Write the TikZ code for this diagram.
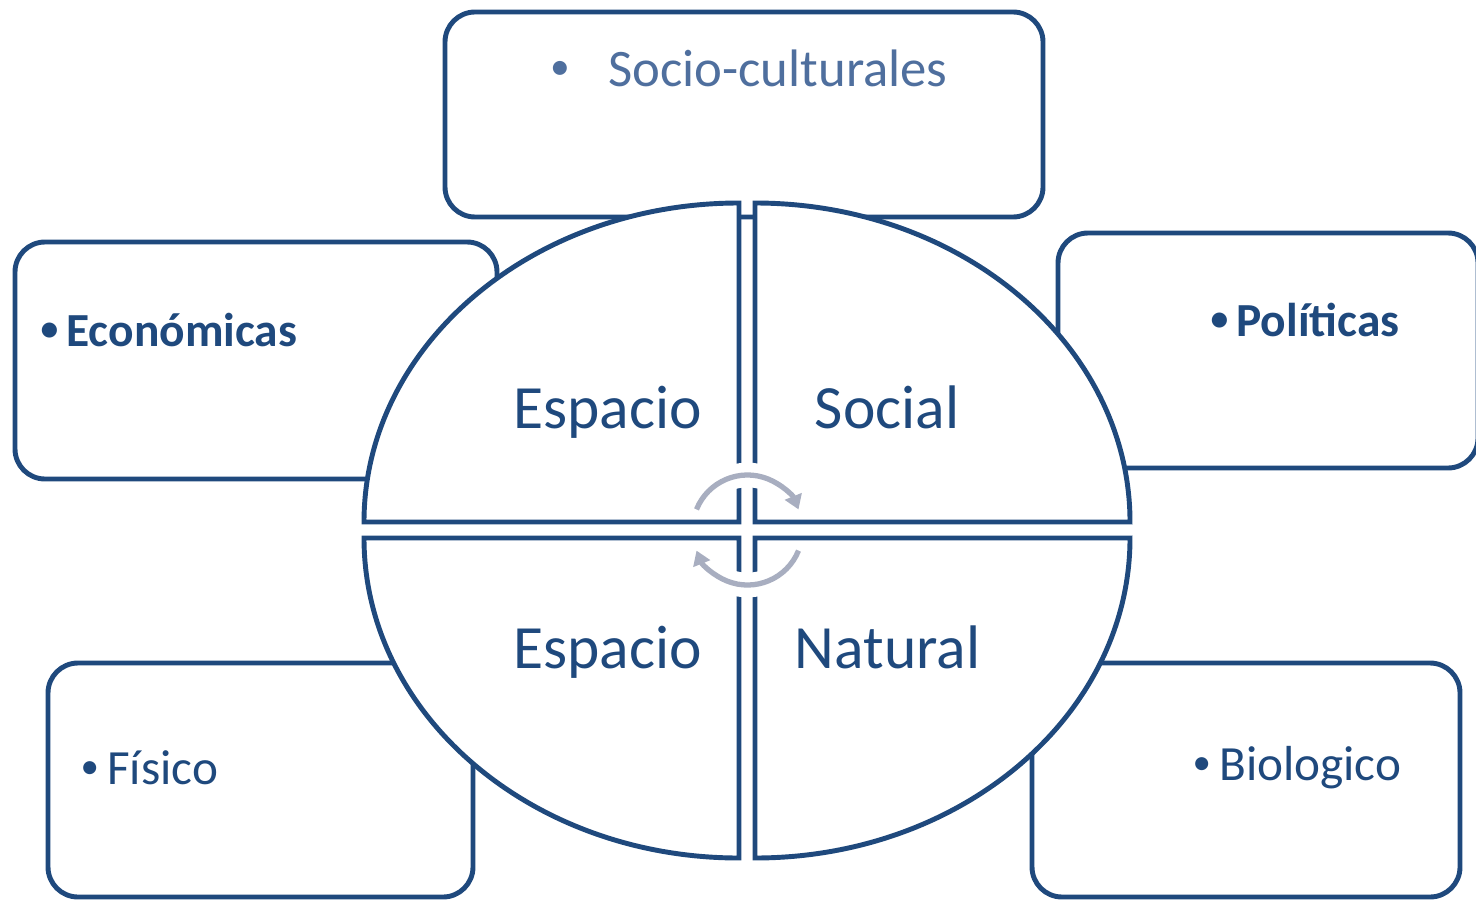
\documentclass[tikz,border=0pt]{standalone}
\usepackage{fontspec}
\setmainfont{Carlito}
\usepackage{tikz}
\usepackage{xcolor}
\usetikzlibrary{arrows.meta,positioning}
\definecolor{spacenavy}{RGB}{31,73,125}
\definecolor{spacesoft}{RGB}{79,111,158}
\definecolor{cyclegray}{RGB}{168,174,192}
\newcommand{\smallbul}{\raisebox{0.12em}{\scalebox{0.75}{\textbullet}}}

\begin{document}
\begin{tikzpicture}[
        outerbox/.style={draw=spacenavy, line width=1.4pt, rounded corners=0.3cm, fill=white},
        quarter/.style={draw=spacenavy, line width=1.4pt, fill=white},
        boxlabel/.style={text=spacenavy, font=\fontsize{13.5}{16}\selectfont, inner sep=0pt, anchor=west},
        quadlabel/.style={text=spacenavy, font=\fontsize{17.5}{20}\selectfont, inner sep=0pt, anchor=base}
    ]
        \useasboundingbox (0,0) rectangle (14.76,9);

        % Outer boxes
        \node [outerbox, minimum width=5.98cm, minimum height=2.05cm] (socio) at (7.44,7.855) {};
        \node [outerbox, minimum width=4.82cm, minimum height=2.37cm] (econ) at (2.56,5.395) {};
        \node [outerbox, minimum width=4.20cm, minimum height=2.35cm] (poli) at (12.68,5.495) {};
        \node [outerbox, minimum width=4.25cm, minimum height=2.34cm] (fisi) at (2.605,1.20) {};
        \node [outerbox, minimum width=4.28cm, minimum height=2.34cm] (bio) at (12.46,1.20) {};

        % Quadrants of the ellipse
        \draw [quarter] (7.39,3.78) -- (3.64,3.78) arc[start angle=180, end angle=90, x radius=3.75cm, y radius=3.19cm] -- cycle;
        \draw [quarter] (7.55,3.78) -- (7.55,6.97) arc[start angle=90, end angle=0, x radius=3.75cm, y radius=3.19cm] -- cycle;
        \draw [quarter] (7.39,3.62) -- (7.39,0.42) arc[start angle=270, end angle=180, x radius=3.75cm, y radius=3.20cm] -- cycle;
        \draw [quarter] (7.55,3.62) -- (11.30,3.62) arc[start angle=0, end angle=-90, x radius=3.75cm, y radius=3.20cm] -- cycle;

        % Cycle arrows
        \coordinate (hub) at (7.475,3.70);
        \draw [white, line width=7pt] ([shift={(158:0.55)}]hub) arc[start angle=158, end angle=22, radius=0.55cm];
        \draw [white, line width=7pt] ([shift={(-22:0.55)}]hub) arc[start angle=-22, end angle=-158, radius=0.55cm];
        \draw [cyclegray, line width=1.5pt, -{Triangle[length=4pt,width=5pt]}] ([shift={(158:0.55)}]hub) arc[start angle=158, end angle=22, radius=0.55cm];
        \draw [cyclegray, line width=1.5pt, -{Triangle[length=4pt,width=5pt]}] ([shift={(-22:0.55)}]hub) arc[start angle=-22, end angle=-158, radius=0.55cm];

        % Quadrant labels
        \node [quadlabel] (esp1) at (6.075,4.72) {Espacio};
        \node [quadlabel] (soc) at (8.87,4.72) {Social};
        \node [quadlabel] (esp2) at (6.075,2.32) {Espacio};
        \node [quadlabel] (nat) at (8.875,2.32) {Natural};

        % Box labels
        \node [boxlabel, text=spacesoft, font=\fontsize{15}{18}\selectfont] (socioText) at (5.50,8.32) {\smallbul\hspace{0.38cm}Socio-culturales};
        \node [boxlabel, font=\bfseries\fontsize{13.5}{16}\selectfont] (econText) at (0.40,5.70) {\smallbul\,Económicas};
        \node [boxlabel, font=\bfseries\fontsize{13.5}{16}\selectfont] (poliText) at (12.10,5.80) {\smallbul\,Políticas};
        \node [boxlabel, font=\fontsize{14}{17}\selectfont] (fisiText) at (0.80,1.32) {\smallbul\,Físico};
        \node [boxlabel, font=\fontsize{14}{17}\selectfont] (bioText) at (11.92,1.32) {\smallbul\,Biologico};
    \end{tikzpicture}
\end{document}
